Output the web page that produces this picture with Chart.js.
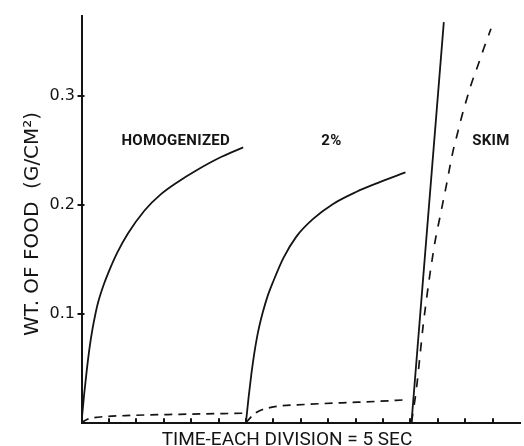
<!DOCTYPE html>
<html>
<head>
<meta charset="utf-8">
<script src="https://cdn.jsdelivr.net/npm/chart.js@4/dist/chart.umd.min.js"></script>
<style>
  html, body { margin: 0; padding: 0; background: #ffffff; }
  canvas { display: block; }
</style>
</head>
<body>
<canvas id="chart" width="524" height="446"></canvas>
<script>
// Time in seconds (one axis division = 5 s), weight in g/cm²
const homogTime   = [0, 0.5, 1.0, 1.5, 2.0, 2.5, 3.0, 4.0, 5.0, 6.5, 8.5, 11.5, 14.5, 17.5, 21.0, 25.0, 29.5];
const homogWeight = [0, 0.027, 0.050, 0.070, 0.086, 0.099, 0.110, 0.126, 0.139, 0.156, 0.174, 0.195, 0.210, 0.221, 0.232, 0.243, 0.253];

const homogDashTime   = [0, 1, 3, 8, 18, 29.8];
const homogDashWeight = [0, 0.003, 0.005, 0.0065, 0.0077, 0.0087];

const twoPctTime   = [30.0, 30.5, 31.0, 31.5, 32.0, 32.5, 33.1, 34.0, 35.0, 36.8, 39.2, 42.2, 45.9, 50.1, 54.4, 59.1];
const twoPctWeight = [0, 0.024, 0.045, 0.063, 0.078, 0.090, 0.102, 0.117, 0.130, 0.151, 0.171, 0.187, 0.201, 0.212, 0.221, 0.230];

const twoPctDashTime   = [30.0, 31.5, 32.5, 35.0, 41.0, 47.5, 54.0, 59.0];
const twoPctDashWeight = [0, 0.008, 0.011, 0.0145, 0.0168, 0.0183, 0.0196, 0.021];

const skimTime   = [60.2, 66.1];
const skimWeight = [0, 0.368];

const skimDashTime   = [60.2, 61.1, 61.7, 62.3, 62.9, 63.5, 64.1, 64.7, 65.4, 66.0, 66.6, 67.2, 67.8, 68.6, 69.3, 70.2, 71.1, 72.3, 73.4, 74.7];
const skimDashWeight = [0, 0.031, 0.059, 0.088, 0.112, 0.134, 0.154, 0.172, 0.189, 0.204, 0.219, 0.235, 0.250, 0.266, 0.280, 0.296, 0.311, 0.328, 0.344, 0.362];

const yTickValues = [0.1, 0.2, 0.3];

const curveLabels = ['HOMOGENIZED', '2%', 'SKIM'];
const labelTime   = [17.2, 45.6, 74.7];
const labelWeight = [0.2555, 0.2555, 0.2555];

const xTitle = 'TIME-EACH DIVISION = 5 SEC';
const yTitle = 'WT. OF FOOD  (G/CM²)';

const INK = '#141414';

function points(times, weights) {
  return times.map((t, i) => ({ x: t, y: weights[i] }));
}

function solid(times, weights) {
  return {
    data: points(times, weights),
    borderColor: INK,
    borderWidth: 1.8,
    pointRadius: 0,
    fill: false,
    cubicInterpolationMode: 'monotone'
  };
}

function dashed(times, weights, dash) {
  return Object.assign(solid(times, weights), { borderDash: dash, borderWidth: 1.7 });
}

// Inward ticks, curve captions and axis titles
const decorations = {
  id: 'decorations',
  afterDraw(chart) {
    const { ctx, chartArea: area, scales: { x, y } } = chart;
    ctx.save();
    ctx.strokeStyle = INK;
    ctx.lineWidth = 2;
    x.ticks.forEach(t => {
      if (t.value <= x.min || t.value >= x.max) return;
      const px = Math.round(x.getPixelForValue(t.value));
      ctx.beginPath();
      ctx.moveTo(px, area.bottom);
      ctx.lineTo(px, area.bottom - 4.5);
      ctx.stroke();
    });
    y.ticks.forEach(t => {
      const py = Math.round(y.getPixelForValue(t.value));
      ctx.beginPath();
      ctx.moveTo(area.left - 4, py);
      ctx.lineTo(area.left + 3, py);
      ctx.stroke();
    });

    ctx.fillStyle = INK;
    ctx.textAlign = 'center';
    ctx.textBaseline = 'alphabetic';
    ctx.font = 'bold 15px Roboto, "Liberation Sans", sans-serif';
    ctx.letterSpacing = '0.3px';
    curveLabels.forEach((s, i) => {
      ctx.fillText(s, x.getPixelForValue(labelTime[i]), y.getPixelForValue(labelWeight[i]));
    });
    ctx.letterSpacing = '0px';

    ctx.font = '19px Roboto, "Liberation Sans", sans-serif';
    ctx.fillText(xTitle, area.left + 205.5, area.bottom + 22.5);

    ctx.save();
    ctx.translate(area.left - 48.5, (area.top + area.bottom) / 2 + 4.5);
    ctx.rotate(-Math.PI / 2);
    ctx.textBaseline = 'middle';
    ctx.font = '20px "DejaVu Sans", sans-serif';
    ctx.fillText(yTitle, 0, 0);
    ctx.restore();
    ctx.restore();
  }
};

new Chart(document.getElementById('chart'), {
  type: 'line',
  data: {
    datasets: [
      solid(homogTime, homogWeight),
      dashed(homogDashTime, homogDashWeight, [8, 6]),
      solid(twoPctTime, twoPctWeight),
      dashed(twoPctDashTime, twoPctDashWeight, [8, 6]),
      solid(skimTime, skimWeight),
      dashed(skimDashTime, skimDashWeight, [9, 9])
    ]
  },
  options: {
    responsive: false,
    animation: false,
    layout: { padding: { top: 11.7, right: 4, bottom: 0, left: 0 } },
    plugins: { legend: { display: false }, tooltip: { enabled: false } },
    scales: {
      x: {
        type: 'linear',
        min: 0,
        max: 80,
        ticks: { display: false, stepSize: 5 },
        grid: { display: true, drawOnChartArea: false, drawTicks: false },
        border: { display: true, color: INK, width: 2 },
        afterFit(scale) { scale.height = 23.3; }
      },
      y: {
        min: 0,
        max: 0.3736,
        afterBuildTicks(scale) { scale.ticks = yTickValues.map(v => ({ value: v })); },
        ticks: {
          color: INK,
          padding: 6.5,
          font: { family: '"DejaVu Sans", sans-serif', size: 16 },
          callback: v => v.toFixed(1)
        },
        grid: { display: true, drawOnChartArea: false, drawTicks: false },
        border: { display: true, color: INK, width: 2 },
        afterFit(scale) { scale.width = 81.5; }
      }
    }
  },
  plugins: [decorations]
});
</script>
</body>
</html>
